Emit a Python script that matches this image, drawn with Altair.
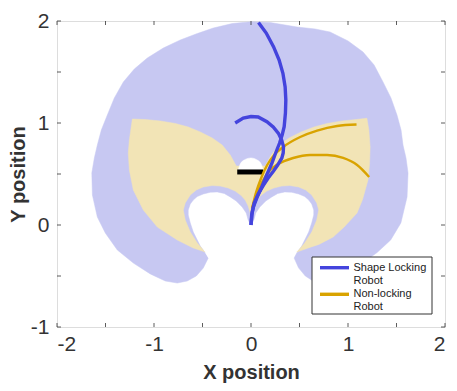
import altair as alt
import pandas as pd

# ---------------- data ----------------
# workspace of the shape-locking robot (blue region), outer boundary + notch
blue_x = [-0.441, -0.492, -0.564, -0.657, -0.760, -0.884, -1.038, -1.213, -1.378, -1.502,
          -1.584, -1.635, -1.641, -1.615, -1.584, -1.543, -1.481, -1.409, -1.316, -1.203,
          -1.069, -0.904, -0.729, -0.554, -0.389, -0.194, 0.000,
          0.198, 0.476, 0.661, 0.815, 1.001, 1.155, 1.269, 1.361, 1.443, 1.505, 1.547,
          1.567, 1.598, 1.619, 1.609, 1.545, 1.440, 1.300, 1.140, 0.980, 0.850, 0.740,
          0.640, 0.560, 0.490, 0.445,
          0.472, 0.523, 0.554, 0.595, 0.626, 0.647, 0.647, 0.626, 0.595, 0.554, 0.492,
          0.420, 0.348, 0.276, 0.214, 0.152, 0.091, 0.049, 0.029, 0.000,
          -0.029, -0.049, -0.091, -0.152, -0.214, -0.276, -0.348, -0.420, -0.492, -0.554,
          -0.595, -0.626, -0.647, -0.647, -0.626, -0.595, -0.554, -0.523, -0.472]
blue_y = [-0.324, -0.422, -0.500, -0.549, -0.569, -0.549, -0.480, -0.373, -0.245, -0.078,
          0.078, 0.294, 0.510, 0.657, 0.784, 0.931, 1.078, 1.245, 1.402, 1.529,
          1.637, 1.735, 1.814, 1.877, 1.931, 1.975, 1.993,
          1.985, 1.941, 1.922, 1.892, 1.804, 1.696, 1.569, 1.402, 1.245, 1.078, 0.931,
          0.784, 0.657, 0.510, 0.275, 0.020, -0.147, -0.270, -0.380, -0.470, -0.540, -0.569,
          -0.549, -0.500, -0.420, -0.324,
          -0.275, -0.206, -0.147, -0.069, 0.020, 0.098, 0.147, 0.206, 0.245, 0.279, 0.304,
          0.321, 0.324, 0.309, 0.275, 0.235, 0.176, 0.118, 0.049, 0.000,
          0.049, 0.118, 0.176, 0.235, 0.275, 0.309, 0.324, 0.321, 0.304, 0.279,
          0.245, 0.206, 0.147, 0.098, 0.020, -0.069, -0.147, -0.206, -0.275]

# workspace of the non-locking robot (yellow region)
yel_x = [-0.472, -0.595, -0.760, -0.966, -1.110, -1.213, -1.254, -1.265, -1.254, -1.223,
         -1.090, -0.935, -0.780, -0.647, -0.523, -0.400, -0.297, -0.214, -0.152,
         0.146, 0.208, 0.290, 0.393, 0.517, 0.651, 0.785, 0.939, 1.083, 1.195,
         1.215, 1.228, 1.222, 1.206, 1.150, 1.093, 0.960, 0.847, 0.700, 0.589, 0.472,
         0.492, 0.554, 0.626, 0.678, 0.698, 0.678, 0.626, 0.564, 0.492, 0.400, 0.317,
         0.235, 0.163, 0.101, 0.060, 0.029, 0.008, 0.000,
         -0.008, -0.029, -0.060, -0.101, -0.163, -0.235, -0.317, -0.400, -0.492, -0.564,
         -0.626, -0.678, -0.698, -0.678, -0.626, -0.554, -0.492]
yel_y = [-0.265, -0.225, -0.147, -0.020, 0.147, 0.343, 0.539, 0.706, 0.833, 1.039,
         1.034, 1.020, 0.995, 0.961, 0.912, 0.853, 0.784, 0.686, 0.578,
         0.578, 0.686, 0.784, 0.853, 0.912, 0.961, 0.995, 1.020, 1.034, 1.046,
         0.930, 0.765, 0.600, 0.441, 0.250, 0.118, -0.020, -0.118, -0.190, -0.225, -0.265,
         -0.245, -0.176, -0.069, 0.049, 0.147, 0.216, 0.294, 0.343, 0.373, 0.387, 0.382,
         0.363, 0.333, 0.289, 0.245, 0.186, 0.118, 0.029,
         0.118, 0.186, 0.245, 0.289, 0.333, 0.363, 0.382, 0.387, 0.373, 0.343,
         0.294, 0.216, 0.147, 0.049, -0.069, -0.176, -0.245]

# small white dome above the obstacle bar
dome_x = [-0.132, -0.111, -0.070, 0.000, 0.064, 0.105, 0.126]
dome_y = [0.539, 0.598, 0.637, 0.657, 0.637, 0.598, 0.539]

# black obstacle bar
bar_x = [-0.142]
bar_x2 = [0.126]
bar_y = [0.52]

# Shape Locking Robot, two configurations
slA_x = [-0.163, -0.080, 0.000, 0.074, 0.164, 0.229, 0.283, 0.316, 0.335, 0.332, 0.318,
         0.275, 0.232, 0.177, 0.129, 0.074, 0.033, 0.012, 0.000]
slA_y = [1.000, 1.049, 1.064, 1.059, 1.013, 0.961, 0.899, 0.833, 0.768, 0.706, 0.657,
         0.588, 0.529, 0.461, 0.392, 0.304, 0.216, 0.127, 0.000]
slB_x = [0.077, 0.157, 0.232, 0.290, 0.329, 0.352, 0.359, 0.355, 0.342, 0.321, 0.294,
         0.254, 0.215, 0.162, 0.112, 0.064, 0.026, 0.007, 0.000]
slB_y = [1.985, 1.882, 1.748, 1.618, 1.487, 1.353, 1.225, 1.098, 0.964, 0.882, 0.801,
         0.706, 0.605, 0.490, 0.375, 0.275, 0.179, 0.098, 0.000]

# Non-locking Robot, two configurations
nlA_x = [0.012, 0.054, 0.105, 0.167, 0.239, 0.332, 0.507, 0.682, 0.888, 1.088]
nlA_y = [0.167, 0.324, 0.461, 0.588, 0.686, 0.765, 0.863, 0.926, 0.971, 0.985]
nlB_x = [0.012, 0.064, 0.126, 0.198, 0.280, 0.435, 0.610, 0.785, 0.950, 1.094, 1.218]
nlB_y = [0.167, 0.314, 0.441, 0.539, 0.598, 0.657, 0.686, 0.686, 0.657, 0.588, 0.471]

x_ticks = [-2, -1.5, -1, -0.5, 0, 0.5, 1, 1.5, 2]
y_ticks = [-1, -0.5, 0, 0.5, 1, 1.5, 2]
x_labels = [-2, -1, 0, 1, 2]
y_labels = [-1, 0, 1, 2]

legend_lines = ["Shape Locking", "Robot", "Non-locking", "Robot"]

# ---------------- styling ----------------
BLUE_FILL = "#c7c8f2"
YEL_FILL = "#f2e4b6"
BLUE_LINE = "#4444dd"
YEL_LINE = "#d9a300"
AX = "#333333"
FONT = "Liberation Sans"
W, H = 388, 306

lab_expr = "datum.value < 0 ? '-' + abs(datum.value) : '' + datum.value"

X = alt.X("x:Q", scale=alt.Scale(domain=[-2, 2], nice=False, zero=False),
          axis=alt.Axis(values=x_labels, ticks=False, domain=False, grid=False,
                        labelExpr=lab_expr, labelFontSize=21, labelColor=AX,
                        labelPadding=6, labelFont=FONT,
                        title="X position", titleFontSize=20, titleFontWeight="bold",
                        titleColor=AX, titleFont=FONT, titlePadding=8))
Y = alt.Y("y:Q", scale=alt.Scale(domain=[-1, 2], nice=False, zero=False),
          axis=alt.Axis(values=y_labels, ticks=False, domain=False, grid=False,
                        labelExpr=lab_expr, labelFontSize=21, labelColor=AX,
                        labelPadding=8, labelFont=FONT,
                        title="Y position", titleFontSize=20, titleFontWeight="bold",
                        titleColor=AX, titleFont=FONT, titlePadding=2))


def poly(xs, ys):
    return pd.DataFrame({"x": xs, "y": ys, "i": list(range(len(xs)))})


def curves(pairs, series):
    rows = []
    for cid, (xs, ys) in enumerate(pairs):
        for i, (a, b) in enumerate(zip(xs, ys)):
            rows.append({"x": a, "y": b, "i": i, "curve": f"{series}{cid}"})
    return pd.DataFrame(rows)


blue_poly = alt.Chart(poly(blue_x, blue_y)).mark_line(
    fill=BLUE_FILL, stroke=BLUE_FILL, strokeWidth=0.5
).encode(x=X, y=Y, order="i:Q")

yel_poly = alt.Chart(poly(yel_x, yel_y)).mark_line(
    fill=YEL_FILL, stroke=YEL_FILL, strokeWidth=0.5
).encode(x=X, y=Y, order="i:Q")

dome = alt.Chart(poly(dome_x, dome_y)).mark_line(
    fill="white", stroke="white", strokeWidth=0.5, interpolate="monotone"
).encode(x=X, y=Y, order="i:Q")

bar = alt.Chart(pd.DataFrame({"x": bar_x, "x2": bar_x2, "y": bar_y})).mark_rule(
    color="black", strokeWidth=5
).encode(x=X, x2="x2:Q", y=Y)

nl = alt.Chart(curves([(nlA_x, nlA_y), (nlB_x, nlB_y)], "nl")).mark_line(
    color=YEL_LINE, strokeWidth=2.4, interpolate="monotone"
).encode(x=X, y=Y, detail="curve:N", order="i:Q")

sl = alt.Chart(curves([(slA_x, slA_y), (slB_x, slB_y)], "sl")).mark_line(
    color=BLUE_LINE, strokeWidth=3.4
).encode(x=X, y=Y, detail="curve:N", order="i:Q")

# inward ticks on all four sides
xt = pd.DataFrame({"x": x_ticks})
yt = pd.DataFrame({"y": y_ticks})
tick_top = alt.Chart(xt).mark_rule(color=AX, strokeWidth=0.8).encode(
    x=X, y=alt.value(0), y2=alt.value(4))
tick_bot = alt.Chart(xt).mark_rule(color=AX, strokeWidth=0.8).encode(
    x=X, y=alt.value(H - 4), y2=alt.value(H))
tick_left = alt.Chart(yt).mark_rule(color=AX, strokeWidth=0.8).encode(
    y=Y, x=alt.value(0), x2=alt.value(4))
tick_right = alt.Chart(yt).mark_rule(color=AX, strokeWidth=0.8).encode(
    y=Y, x=alt.value(W - 4), x2=alt.value(W))

# legend (drawn in the plot's corner)
one = pd.DataFrame({"k": [0]})
leg_box = alt.Chart(one).mark_rect(fill="white", stroke="#333333", strokeWidth=1).encode(
    x=alt.value(255), x2=alt.value(375), y=alt.value(236), y2=alt.value(293))
leg_sl = alt.Chart(one).mark_rule(color=BLUE_LINE, strokeWidth=3.4).encode(
    x=alt.value(263), x2=alt.value(292), y=alt.value(246.7))
leg_nl = alt.Chart(one).mark_rule(color=YEL_LINE, strokeWidth=3.4).encode(
    x=alt.value(263), x2=alt.value(292), y=alt.value(273.3))
leg_text = []
for txt, yy in zip(legend_lines, [246.5, 259.8, 273.2, 286.3]):
    leg_text.append(
        alt.Chart(one).mark_text(text=txt, align="left", baseline="middle",
                                 fontSize=11, font=FONT, color="#222222").encode(
            x=alt.value(296.5), y=alt.value(yy)))

chart = alt.layer(
    blue_poly, yel_poly, dome, bar, nl, sl,
    tick_top, tick_bot, tick_left, tick_right,
    leg_box, leg_sl, leg_nl, *leg_text
).properties(
    width=W, height=H,
    padding={"left": 49, "top": 13, "right": 4, "bottom": 56},
    autosize=alt.AutoSizeParams(type="none"),
).configure_view(
    stroke="#555555", strokeWidth=1
).configure(font=FONT, background="white")

chart.save("out.html", embed_options={"renderer": "svg", "actions": False})
